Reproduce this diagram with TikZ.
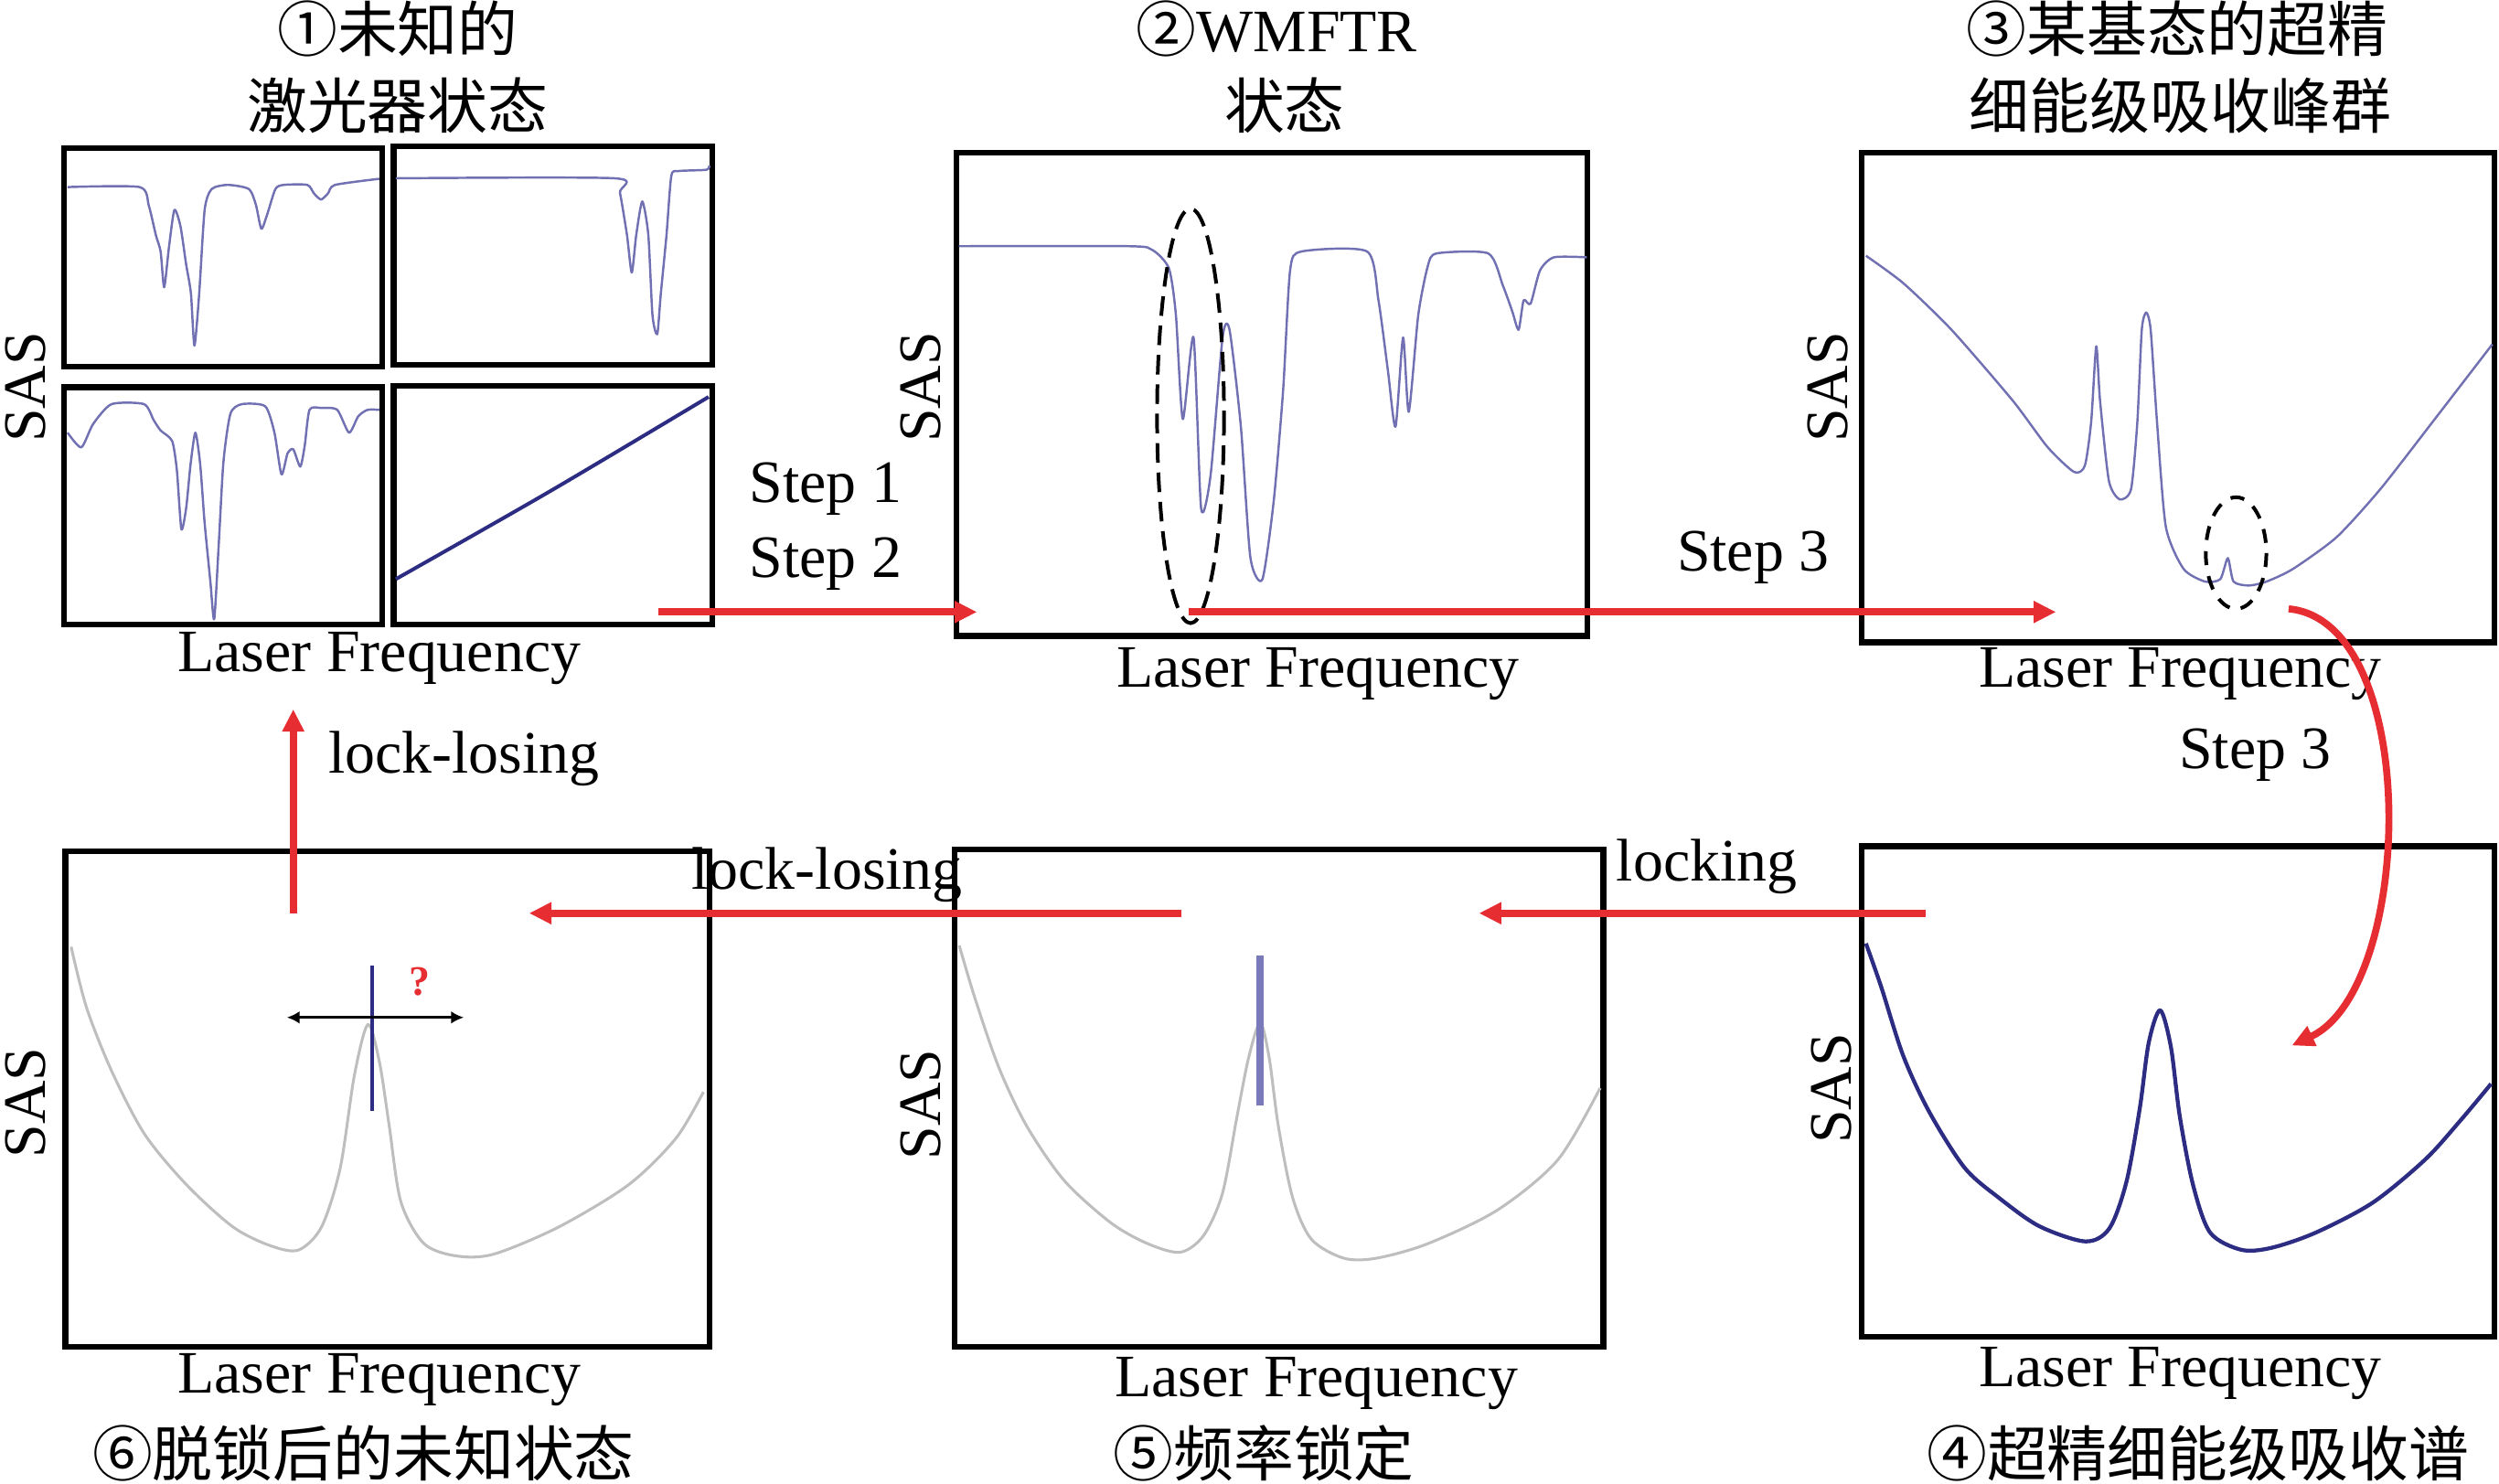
\documentclass[tikz,border=0pt]{standalone}
\usepackage{fontspec}
\setmainfont{Liberation Serif}
\newfontfamily\cjk{Noto Sans CJK SC}
\usepackage{tikz}
\usetikzlibrary{arrows.meta}

\definecolor{specblue}{RGB}{112,112,178}
\definecolor{specnavy}{RGB}{44,44,130}
\definecolor{specgray}{RGB}{190,190,190}
\definecolor{barblue}{RGB}{122,122,186}
\definecolor{flowred}{RGB}{230,45,50}

\tikzset{
  panel/.style={draw, line width=2pt, inner sep=0pt, outer sep=0pt},
  spec/.style={specblue, line width=0.8pt, line join=round},
  flow/.style={flowred, line width=2.5pt, -{Triangle[length=2.8mm,width=2.6mm]}},
  ring/.style={black, line width=1.3pt, dash pattern=on 7pt off 3.5pt},
}

\begin{document}
\begin{tikzpicture}[x=0.2mm, y=-0.2mm, font=\fontsize{21.5}{25}\selectfont]
\useasboundingbox (0,0) rectangle (1568,930.6);

  %the panels: panel 1 is split in four small windows
\node[panel, minimum width=40mm, minimum height=27.4mm] (p1a) at (140,161.5) {};
\node[panel, minimum width=40mm, minimum height=27.4mm] (p1b) at (347,160.5) {};
\node[panel, minimum width=40mm, minimum height=29.8mm] (p1c) at (140,317.5) {};
\node[panel, minimum width=40mm, minimum height=30mm] (p1d) at (347,317) {};
\node[panel, minimum width=79.2mm, minimum height=60.6mm] (p2) at (798,247.5) {};
\node[panel, minimum width=79.4mm, minimum height=61.4mm] (p3) at (1366.5,249.5) {};
\node[panel, minimum width=79.4mm, minimum height=61.6mm] (p4) at (1366.5,685) {};
\node[panel, minimum width=81.4mm, minimum height=62.4mm] (p5) at (802.5,689) {};
\node[panel, minimum width=80.8mm, minimum height=62.2mm] (p6) at (243,689.5) {};

  %spectra, in coordinates local to each box
\begin{scope}[shift={(p1a.north west)}, xscale=200, yscale=137]
  \draw[spec] plot[smooth, tension=0.4] coordinates {(0.012,0.178) (0.238,0.178) (0.267,0.264) (0.289,0.398) (0.304,0.474) (0.315,0.637) (0.330,0.455) (0.347,0.283) (0.366,0.356) (0.384,0.532) (0.399,0.665) (0.410,0.904) (0.425,0.665) (0.442,0.283) (0.464,0.187) (0.515,0.168) (0.581,0.187) (0.603,0.260) (0.620,0.369) (0.639,0.300) (0.664,0.187) (0.690,0.168) (0.764,0.168) (0.785,0.207) (0.807,0.235) (0.829,0.207) (0.851,0.168) (0.990,0.140)};
\end{scope}
\begin{scope}[shift={(p1b.north west)}, xscale=200, yscale=137]
  \draw[spec] plot[smooth, tension=0.4] coordinates {(0.007,0.145) (0.693,0.145) (0.710,0.212) (0.732,0.405) (0.747,0.577) (0.761,0.405) (0.780,0.251) (0.799,0.405) (0.812,0.772) (0.827,0.859) (0.838,0.676) (0.856,0.405) (0.871,0.135) (0.893,0.112) (0.981,0.106) (0.990,0.087)};
\end{scope}
\begin{scope}[shift={(p1c.north west)}, xscale=200, yscale=149]
  \draw[spec] plot[smooth, tension=0.4] coordinates {(0.012,0.191) (0.055,0.253) (0.092,0.155) (0.150,0.071) (0.252,0.071) (0.282,0.138) (0.304,0.182) (0.340,0.226) (0.355,0.350) (0.369,0.597) (0.384,0.509) (0.398,0.323) (0.413,0.191) (0.428,0.323) (0.442,0.571) (0.460,0.818) (0.472,0.977) (0.486,0.668) (0.501,0.314) (0.523,0.111) (0.559,0.071) (0.632,0.080) (0.661,0.191) (0.683,0.367) (0.702,0.279) (0.720,0.261) (0.742,0.334) (0.756,0.246) (0.771,0.095) (0.807,0.087) (0.858,0.095) (0.895,0.191) (0.924,0.122) (0.953,0.095) (0.990,0.095)};
\end{scope}
\begin{scope}[shift={(p1d.north west)}, xscale=200, yscale=150]
  \draw[specnavy, line width=1.3pt] plot[smooth] coordinates {(0.007,0.809) (0.49,0.442) (0.988,0.047)};
\end{scope}
\begin{scope}[shift={(p2.north west)}, xscale=396, yscale=303]
  \draw[spec] plot[smooth, tension=0.4] coordinates {(0.004,0.193) (0.274,0.193) (0.311,0.201) (0.337,0.239) (0.348,0.335) (0.359,0.551) (0.376,0.382) (0.388,0.736) (0.403,0.667) (0.422,0.382) (0.433,0.366) (0.451,0.567) (0.466,0.837) (0.485,0.883) (0.503,0.721) (0.518,0.490) (0.529,0.243) (0.547,0.204) (0.651,0.204) (0.669,0.305) (0.684,0.451) (0.696,0.567) (0.708,0.382) (0.717,0.536) (0.732,0.336) (0.747,0.235) (0.761,0.208) (0.843,0.208) (0.866,0.274) (0.881,0.328) (0.891,0.366) (0.899,0.305) (0.910,0.312) (0.925,0.243) (0.947,0.216) (0.999,0.216)};
\end{scope}
\begin{scope}[shift={(p3.north west)}, xscale=397, yscale=307]
  \draw[spec] plot[smooth, tension=0.4] coordinates {(0.007,0.210) (0.066,0.266) (0.142,0.361) (0.239,0.506) (0.294,0.601) (0.336,0.652) (0.353,0.639) (0.363,0.549) (0.371,0.395) (0.377,0.506) (0.391,0.670) (0.408,0.708) (0.426,0.687) (0.436,0.549) (0.443,0.361) (0.450,0.326) (0.457,0.361) (0.467,0.549) (0.481,0.764) (0.509,0.850) (0.543,0.876) (0.567,0.871) (0.579,0.828) (0.588,0.876) (0.612,0.884) (0.640,0.876) (0.682,0.850) (0.751,0.785) (0.820,0.687) (0.903,0.549) (0.997,0.391)};
\end{scope}
\begin{scope}[shift={(p4.north west)}, xscale=397, yscale=308]
  \draw[specnavy, line width=1.4pt, line join=round] plot[smooth, tension=0.5] coordinates {(0.007,0.198) (0.031,0.286) (0.066,0.427) (0.107,0.541) (0.163,0.655) (0.218,0.717) (0.281,0.774) (0.354,0.805) (0.392,0.778) (0.419,0.682) (0.440,0.532) (0.454,0.400) (0.472,0.334) (0.489,0.409) (0.503,0.550) (0.524,0.690) (0.551,0.787) (0.600,0.822) (0.648,0.818) (0.718,0.787) (0.808,0.726) (0.891,0.638) (0.947,0.558) (0.995,0.484)};
\end{scope}
\begin{scope}[shift={(p5.north west)}, xscale=407, yscale=312]
  \draw[specgray, line width=1pt] plot[smooth, tension=0.5] coordinates {(0.007,0.193) (0.032,0.302) (0.068,0.438) (0.111,0.556) (0.169,0.666) (0.241,0.751) (0.298,0.793) (0.348,0.810) (0.384,0.776) (0.413,0.691) (0.435,0.539) (0.453,0.420) (0.471,0.349) (0.485,0.420) (0.499,0.556) (0.521,0.700) (0.550,0.784) (0.600,0.822) (0.650,0.822) (0.729,0.793) (0.837,0.725) (0.930,0.624) (0.995,0.480)};
\end{scope}
\begin{scope}[shift={(p6.north west)}, xscale=404, yscale=311]
  \draw[specgray, line width=1pt] plot[smooth, tension=0.5] coordinates {(0.009,0.193) (0.033,0.316) (0.072,0.444) (0.123,0.571) (0.188,0.673) (0.260,0.758) (0.318,0.796) (0.362,0.805) (0.398,0.758) (0.427,0.639) (0.449,0.452) (0.470,0.350) (0.488,0.427) (0.503,0.554) (0.521,0.707) (0.557,0.792) (0.608,0.817) (0.666,0.813) (0.767,0.758) (0.875,0.673) (0.948,0.580) (0.991,0.486)};
\end{scope}

  %dashed rings round the chosen lines
\draw[ring] (747,261) ellipse [x radius=21, y radius=130];
\draw[ring, dash pattern=on 5pt off 4pt] (1403,347) ellipse [x radius=19, y radius=35];

  %lock point markers
\draw[barblue, line width=2.6pt] (790.4,599.5) -- (790.4,693.4);
\draw[specnavy, line width=1.3pt] (233.3,606) -- (233.3,697);
\coordinate (dl) at (180,638.4);
\coordinate (dr) at (291,638.4);
\draw[line width=1pt, {Latex[length=1.6mm,width=1.6mm]}-{Latex[length=1.6mm,width=1.6mm]}] (dl) -- (dr);
\node[flowred, font=\fontsize{15}{15}\selectfont\bfseries] (qm) at (263.5,616) {?};

  %titles and captions
\node (t1a) at (249.5,18) {\cjk ①未知的};
\node (t1b) at (249.5,66) {\cjk 激光器状态};
\node (t2a) at (801,18) {{\cjk ②}WMFTR};
\node (t2b) at (806,66) {\cjk 状态};
\node (t3a) at (1366,18) {\cjk ③某基态的超精};
\node (t3b) at (1368,66) {\cjk 细能级吸收峰群};
\node (t4) at (1379,912) {\cjk ④超精细能级吸收谱};
\node (t5) at (793,912) {\cjk ⑤频率锁定};
\node (t6) at (228,912) {\cjk ⑥脱锁后的未知状态};

  %axis labels, one pair for each panel
\foreach \n/\x/\y in {1/16/243, 2/578/243, 3/1147/243, 4/1149/683, 5/578/693, 6/16/692}
  \node[rotate=90, inner sep=0pt] (sas\n) at (\x,\y) {SAS};
\foreach \n/\x/\y in {1/238/413, 2/827/423, 3/1368/423, 4/1368/862, 5/826/868, 6/238/866}
  \node (lf\n) at (\x,\y) {Laser Frequency};

  %the steps between the panels
\coordinate (s12a) at (413,384);
\coordinate (s12b) at (613,384);
\coordinate (s3a) at (746,384);
\coordinate (s3b) at (1290,384);
\coordinate (c3a) at (1436,382);
\coordinate (c3b) at (1438,656);
\coordinate (lka) at (1208,573);
\coordinate (lkb) at (928,573);
\coordinate (lla) at (741,573);
\coordinate (llb) at (332,573);
\coordinate (upa) at (184,573);
\coordinate (upb) at (184,445);
\draw[flow] (s12a) -- (s12b);
\draw[flow] (s3a) -- (s3b);
\draw[flow] (c3a) .. controls (1520,390) and (1515,620) .. (c3b);
\draw[flow] (lka) -- (lkb);
\draw[flow] (lla) -- (llb);
\draw[flow] (upa) -- (upb);

\node (st1) at (518,307) {Step 1};
\node (st2) at (518,354) {Step 2};
\node (st3) at (1100,350) {Step 3};
\node (st3b) at (1415,474) {Step 3};
\node (lk) at (1071,544) {locking};
\node (ll1) at (519,549) {lock-losing};
\node (ll2) at (291,476) {lock-losing};
\end{tikzpicture}
\end{document}
